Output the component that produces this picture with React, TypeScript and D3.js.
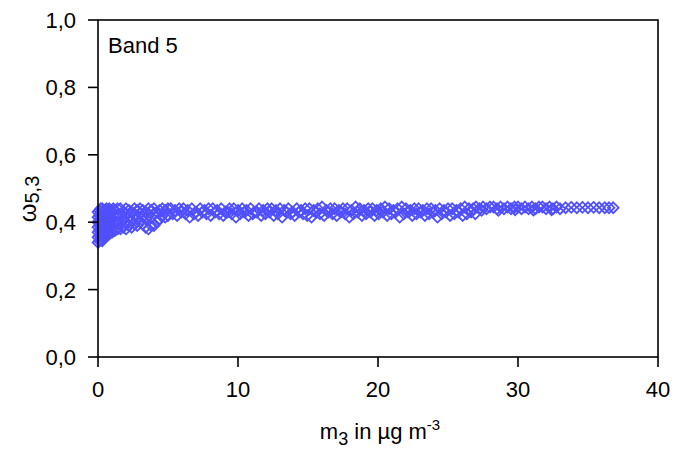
import React from "react";
import * as d3 from "d3";

const xTicks = [0, 10, 20, 30, 40];
const yTicks = [0, 0.2, 0.4, 0.6, 0.8, 1.0];
const yTickLabels = ["0,0", "0,2", "0,4", "0,6", "0,8", "1,0"];

// low-mass region (m3 < 5): [m3, omega]
const lowMassPoints: [number, number][] = [
  [0.0, 0.34], [0.0, 0.355], [0.0, 0.37], [0.0, 0.385], [0.0, 0.40], [0.0, 0.415], [0.0, 0.43],
  [0.1, 0.345], [0.1, 0.36], [0.1, 0.375], [0.1, 0.39], [0.1, 0.405], [0.1, 0.42], [0.1, 0.435],
  [0.2, 0.35], [0.2, 0.365], [0.2, 0.38], [0.2, 0.395], [0.2, 0.41], [0.2, 0.425], [0.2, 0.44],
  [0.3, 0.345], [0.3, 0.36], [0.3, 0.38], [0.3, 0.40], [0.3, 0.42], [0.3, 0.44],
  [0.4, 0.35], [0.4, 0.37], [0.4, 0.39], [0.4, 0.41], [0.4, 0.43],
  [0.5, 0.355], [0.5, 0.375], [0.5, 0.395], [0.5, 0.415], [0.5, 0.435],
  [0.6, 0.36], [0.6, 0.38], [0.6, 0.40], [0.6, 0.42], [0.6, 0.44],
  [0.7, 0.37], [0.7, 0.39], [0.7, 0.43],
  [0.8, 0.365], [0.8, 0.385], [0.8, 0.405], [0.8, 0.425], [0.8, 0.44],
  [0.9, 0.375], [0.9, 0.415], [0.9, 0.435],
  [1.0, 0.37], [1.0, 0.39], [1.0, 0.41], [1.0, 0.43],
  [1.1, 0.38], [1.1, 0.40], [1.1, 0.44],
  [1.2, 0.375], [1.2, 0.395], [1.2, 0.415], [1.2, 0.435],
  [1.4, 0.38], [1.4, 0.40], [1.4, 0.42], [1.4, 0.44],
  [1.6, 0.38], [1.6, 0.40], [1.6, 0.42], [1.6, 0.44],
  [1.8, 0.385], [1.8, 0.41], [1.8, 0.43],
  [2.0, 0.38], [2.0, 0.40], [2.0, 0.425], [2.0, 0.44],
  [2.2, 0.39], [2.2, 0.415], [2.2, 0.435],
  [2.4, 0.385], [2.4, 0.405], [2.4, 0.43],
  [2.6, 0.395], [2.6, 0.42], [2.6, 0.44],
  [2.8, 0.39], [2.8, 0.41], [2.8, 0.435],
  [3.0, 0.40], [3.0, 0.425], [3.0, 0.44],
  [3.2, 0.395], [3.2, 0.415], [3.2, 0.435],
  [3.4, 0.385], [3.4, 0.41], [3.4, 0.43],
  [3.6, 0.38], [3.6, 0.42], [3.6, 0.44],
  [3.8, 0.39], [3.8, 0.415], [3.8, 0.435],
  [4.0, 0.39], [4.0, 0.425], [4.0, 0.44],
  [4.2, 0.40], [4.2, 0.43],
  [4.4, 0.41], [4.4, 0.435],
  [4.6, 0.42], [4.6, 0.44],
  [4.8, 0.415], [4.8, 0.435],
  [5.0, 0.42], [5.0, 0.44],
];

// mid-mass band (5 < m3 < 27)
const bandX = [
  5.2, 5.5, 5.8, 6.1, 6.4, 6.7, 7.0, 7.3, 7.6, 7.9,
  8.2, 8.5, 8.8, 9.1, 9.4, 9.7, 10.0, 10.3, 10.6, 10.9,
  11.2, 11.5, 11.8, 12.1, 12.4, 12.7, 13.0, 13.3, 13.6, 13.9,
  14.2, 14.5, 14.8, 15.1, 15.4, 15.7, 16.0, 16.3, 16.6, 16.9,
  17.2, 17.5, 17.8, 18.1, 18.4, 18.7, 19.0, 19.3, 19.6, 19.9,
  20.2, 20.5, 20.8, 21.1, 21.4, 21.7, 22.0, 22.3, 22.6, 22.9,
  23.2, 23.5, 23.8, 24.1, 24.4, 24.7, 25.0, 25.3, 25.6, 25.9,
  26.2, 26.5, 26.8,
];
const bandHigh = [
  0.44, 0.435, 0.44, 0.44, 0.435, 0.44, 0.43, 0.44, 0.435, 0.44,
  0.44, 0.435, 0.44, 0.43, 0.44, 0.44, 0.435, 0.44, 0.435, 0.44,
  0.43, 0.44, 0.435, 0.44, 0.44, 0.435, 0.44, 0.435, 0.44, 0.43,
  0.44, 0.435, 0.44, 0.44, 0.435, 0.44, 0.445, 0.435, 0.44, 0.44,
  0.435, 0.44, 0.44, 0.435, 0.445, 0.44, 0.435, 0.44, 0.44, 0.435,
  0.44, 0.445, 0.44, 0.435, 0.44, 0.445, 0.44, 0.435, 0.44, 0.44,
  0.435, 0.44, 0.44, 0.435, 0.44, 0.435, 0.44, 0.44, 0.435, 0.44,
  0.445, 0.44, 0.44,
];
const bandLow = [
  0.425, 0.42, 0.43, 0.425, 0.415, 0.425, 0.42, 0.43, 0.425, 0.42,
  0.43, 0.425, 0.42, 0.43, 0.425, 0.415, 0.425, 0.43, 0.42, 0.425,
  0.43, 0.42, 0.425, 0.43, 0.42, 0.425, 0.415, 0.43, 0.425, 0.42,
  0.43, 0.425, 0.42, 0.415, 0.43, 0.425, 0.42, 0.43, 0.425, 0.42,
  0.43, 0.425, 0.415, 0.425, 0.43, 0.42, 0.425, 0.43, 0.42, 0.425,
  0.43, 0.42, 0.425, 0.43, 0.415, 0.425, 0.43, 0.42, 0.425, 0.43,
  0.42, 0.425, 0.43, 0.415, 0.425, 0.43, 0.42, 0.425, 0.43, 0.42,
  0.425, 0.43, 0.425,
];

// high-mass region (m3 > 27)
const highX = [
  27.0, 27.25, 27.5, 27.75, 28.0, 28.25, 28.5, 28.75, 29.0, 29.25,
  29.5, 29.75, 30.0, 30.25, 30.5, 30.75, 31.0, 31.25, 31.5, 31.75,
  32.0, 32.25, 32.5, 32.75, 33.0, 33.4, 33.8, 34.2, 34.6, 35.0,
  35.4, 35.8, 36.2, 36.5, 36.8,
  27.4, 28.6, 29.8, 31.1, 32.4,
];
const highY = [
  0.445, 0.44, 0.445, 0.44, 0.445, 0.445, 0.44, 0.445, 0.44, 0.445,
  0.44, 0.445, 0.445, 0.44, 0.445, 0.44, 0.445, 0.44, 0.445, 0.445,
  0.44, 0.445, 0.44, 0.445, 0.44, 0.443, 0.444, 0.443, 0.444, 0.443,
  0.444, 0.443, 0.443, 0.443, 0.443,
  0.435, 0.435, 0.437, 0.436, 0.437,
];

const W = 677;
const H = 452;
const left = 98;
const right = 658;
const top = 20;
const bottom = 357;
const color = "#5050ff";
const font = "'Liberation Sans', Arial, sans-serif";

export default function App() {
  const x = d3.scaleLinear().domain([0, 40]).range([left, right]);
  const y = d3.scaleLinear().domain([0, 1]).range([bottom, top]);
  const r = 5.4;
  const diamond = `M0,${-r}L${r},0L0,${r}L${-r},0Z`;
  const pts: [number, number][] = [
    ...lowMassPoints,
    ...bandX.map((v, i) => [v, bandHigh[i]] as [number, number]),
    ...bandX.map((v, i) => [v + 0.15, bandLow[i]] as [number, number]),
    ...highX.map((v, i) => [v, highY[i]] as [number, number]),
  ];

  return (
    <svg width={W} height={H} style={{ position: "absolute", left: 0, top: 0 }} fontFamily={font}>
      <rect width={W} height={H} fill="white" />
      {pts.map((p, i) => (
        <path
          key={i}
          d={diamond}
          transform={`translate(${x(p[0])},${y(p[1])})`}
          fill="none"
          stroke={color}
          strokeWidth={1.8}
        />
      ))}
      <rect x={left} y={top} width={right - left} height={bottom - top} fill="none" stroke="black" strokeWidth={1.6} />
      {yTicks.map((t, i) => (
        <g key={t}>
          <line x1={left - 10} x2={left} y1={y(t)} y2={y(t)} stroke="black" strokeWidth={1.6} />
          <text x={76} y={y(t)} dy="0.36em" textAnchor="end" fontSize={22}>
            {yTickLabels[i]}
          </text>
        </g>
      ))}
      {xTicks.map((t) => (
        <g key={t}>
          <line x1={x(t)} x2={x(t)} y1={bottom} y2={bottom + 10} stroke="black" strokeWidth={1.6} />
          <text x={x(t)} y={bottom + 40} textAnchor="middle" fontSize={22}>
            {t}
          </text>
        </g>
      ))}
      <text x={108} y={53} fontSize={22}>Band 5</text>
      <text x={380} y={439} textAnchor="middle" fontSize={22}>
        m<tspan fontSize={18} dy={6}>3</tspan>
        <tspan dy={-6}> in µg m</tspan>
        <tspan fontSize={15} dy={-9}>-3</tspan>
      </text>
      <text transform={`translate(36,199) rotate(-90)`} textAnchor="middle" fontSize={24}>
        ω<tspan fontSize={20} dy={3}>5,3</tspan>
      </text>
    </svg>
  );
}
